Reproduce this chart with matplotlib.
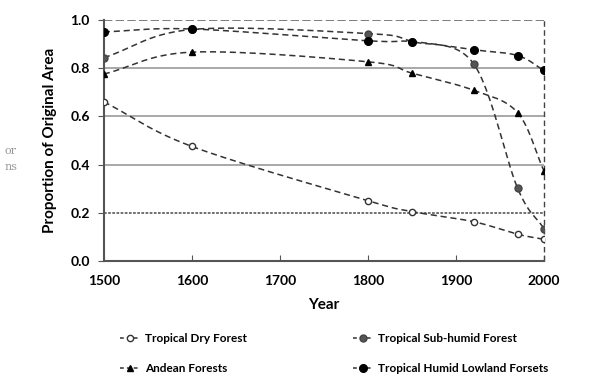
import numpy as np
from matplotlib import pyplot as plt

years = [1500, 1600, 1800, 1850, 1920, 1970, 2000]
dry = [0.66, 0.475, 0.25, 0.205, 0.163, 0.111, 0.09]
subhumid = [0.843, 0.96, 0.943, 0.91, 0.818, 0.302, 0.134]
andean = [0.775, 0.866, 0.826, 0.779, 0.708, 0.615, 0.373]
humid = [0.95, 0.962, 0.913, 0.91, 0.876, 0.852, 0.79]
labels = ['Tropical Dry Forest', 'Tropical Sub-humid Forest',
          'Andean Forests', 'Tropical Humid Lowland Forsets']


def smooth(x, y, n=30):
    # Catmull-Rom curve through the points (like Excel's smoothed line)
    x = np.asarray(x, float)
    y = np.asarray(y, float)
    px = np.concatenate([[2 * x[0] - x[1]], x, [2 * x[-1] - x[-2]]])
    py = np.concatenate([[2 * y[0] - y[1]], y, [2 * y[-1] - y[-2]]])
    xs, ys = [], []
    t = np.linspace(0, 1, n)
    for i in range(1, len(px) - 2):
        for p, out in ((px, xs), (py, ys)):
            p0, p1, p2, p3 = p[i - 1], p[i], p[i + 1], p[i + 2]
            out.extend(0.5 * (2 * p1 + (-p0 + p2) * t
                              + (2 * p0 - 5 * p1 + 4 * p2 - p3) * t ** 2
                              + (-p0 + 3 * p1 - 3 * p2 + p3) * t ** 3))
    return xs, ys


plt.rcParams['font.family'] = ['Lato', 'DejaVu Sans']
plt.rcParams['font.weight'] = 'bold'
plt.rcParams['font.size'] = 10

fig = plt.figure(figsize=(5.9, 3.81), dpi=100)
ax = fig.add_axes([0.176, 0.315, 0.746, 0.633])

lc = '#333333'
styles = [
    dict(marker='o', mfc='white', mec='#333333', ms=4.5, mew=1),
    dict(marker='o', mfc='#555555', mec='#444444', ms=5),
    dict(marker='^', mfc='black', mec='black', ms=4.5),
    dict(marker='o', mfc='black', mec='black', ms=5.5),
]
handles = {}
for ys, st, lab in zip([dry, subhumid, andean, humid], styles, labels):
    sx, sy = smooth(years, ys)
    ax.plot(sx, sy, ls=(0, (4, 2.5)), color=lc, lw=1.1)
    ax.plot(years, ys, ls='none', **st, zorder=3)
    h, = ax.plot([], [], ls=(0, (2.5, 2)), color=lc, lw=1.1, label=lab, **st)
    handles[lab] = h

ax.set_xlim(1500, 2000)
ax.set_ylim(0, 1.0)
ax.set_xticks([1500, 1600, 1700, 1800, 1900, 2000])
ax.set_yticks([0.0, 0.2, 0.4, 0.6, 0.8, 1.0])
ax.set_yticklabels(['0.0', '0.2', '0.4', '0.6', '0.8', '1.0'])
for yv in [0.4, 0.6, 0.8]:
    ax.axhline(yv, color='#999999', lw=1.2, zorder=0)
ax.axhline(0.2, color='#666666', lw=1.3, ls=(0, (1.5, 0.8)), zorder=0)
ax.axhline(1.0, color='#666666', lw=1.2, ls=(0, (5, 2)), zorder=0)

for s in ['top', 'right']:
    ax.spines[s].set_visible(False)
ax.axvline(2000, color='#444444', lw=1.0, ls=(0, (4, 2.5)), clip_on=False)
ax.spines['left'].set_color('#555555')
ax.spines['left'].set_linewidth(1.5)
ax.spines['bottom'].set_color('#555555')
ax.spines['bottom'].set_linewidth(1.5)
ax.tick_params(axis='y', direction='out', length=4, color='#555555', pad=6)
ax.tick_params(axis='x', direction='in', length=4, color='#555555', pad=10)
for t in ax.get_xticklabels() + ax.get_yticklabels():
    t.set_fontweight('bold')

ax.set_xlabel('Year', fontsize=11, labelpad=8, fontweight='bold')
ax.set_ylabel('Proportion of Original Area', fontsize=11, labelpad=10,
              fontweight='bold')

order = [labels[0], labels[2], labels[1], labels[3]]
leg = fig.legend(handles=[handles[k] for k in order], loc='lower center',
                 ncol=2, frameon=False, fontsize=8.5,
                 bbox_to_anchor=(0.567, -0.01), columnspacing=9,
                 handlelength=1.6, handletextpad=0.5, labelspacing=1.6)
for t in leg.get_texts():
    t.set_fontweight('bold')

fig.text(0.008, 0.595, 'or', color='#999999', fontsize=8, family='serif',
         fontweight='normal')
fig.text(0.008, 0.553, 'ns', color='#999999', fontsize=8, family='serif',
         fontweight='normal')

fig.savefig('out.png', dpi=100)
